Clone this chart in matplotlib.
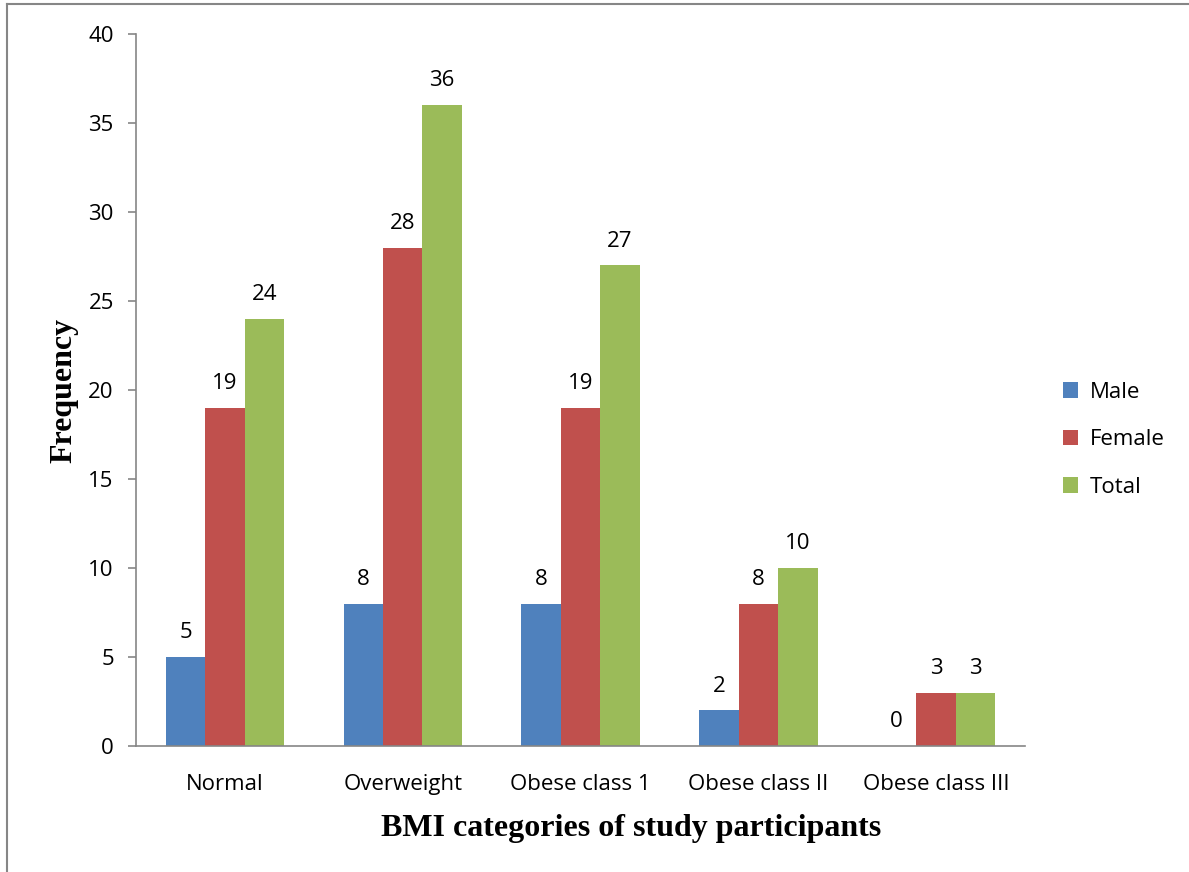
import numpy as np
import matplotlib
matplotlib.use("Agg")
import matplotlib.pyplot as plt
from matplotlib.lines import Line2D

categories = ["Normal", "Overweight", "Obese class 1", "Obese class II", "Obese class III"]
male = [5, 8, 8, 2, 0]
female = [19, 28, 19, 8, 3]
total = [24, 36, 27, 10, 3]

series = [("Male", male, "#4F81BD"), ("Female", female, "#C0504D"), ("Total", total, "#9BBB59")]

plt.rcParams['font.family'] = ['Open Sans', 'DejaVu Sans']
fs = 16

fig = plt.figure(figsize=(11.89, 8.72), dpi=100)
ax = fig.add_axes([0.1144, 0.1445, 0.7477, 0.8165])

x = np.arange(len(categories))
w = 0.222
for i, (name, vals, col) in enumerate(series):
    pos = x + (i - 1) * w
    bars = ax.bar(pos, vals, w, color=col, label=name)
    for xp, v in zip(pos, vals):
        ax.annotate(str(v), (xp, v), xytext=(0, 10), textcoords="offset points",
                    ha="center", va="bottom", fontsize=fs)

ax.set_xlim(-0.5, 4.5)
ax.set_ylim(0, 40)
ax.set_yticks(range(0, 41, 5))
ax.set_xticks(x)
ax.set_xticklabels(categories, fontsize=fs)
ax.tick_params(axis='y', labelsize=fs, length=6, color="#868686", width=1.2, pad=10)
ax.tick_params(axis='x', length=0, pad=20)
for s in ["top", "right"]:
    ax.spines[s].set_visible(False)
for s in ["left", "bottom"]:
    ax.spines[s].set_color("#868686")
    ax.spines[s].set_linewidth(1.2)

ax.set_xlabel("BMI categories of study participants", family="Liberation Serif",
              fontweight="bold", fontsize=23)
ax.xaxis.set_label_coords(0.557, -0.095)
ax.set_ylabel("Frequency", family="Liberation Serif", fontweight="bold", fontsize=23, labelpad=7)

ax.legend(loc="center left", bbox_to_anchor=(1.0, 0.43), frameon=False, fontsize=fs,
          handlelength=0.7, handleheight=0.7, labelspacing=1.2, handletextpad=0.5,
          borderaxespad=1.3)

# outer border lines
fig.add_artist(Line2D([0.006, 0.006], [0, 0.995], color="#868686", lw=1.5))
fig.add_artist(Line2D([0.006, 1], [0.995, 0.995], color="#868686", lw=1.5))

fig.savefig("out.png", dpi=100)
